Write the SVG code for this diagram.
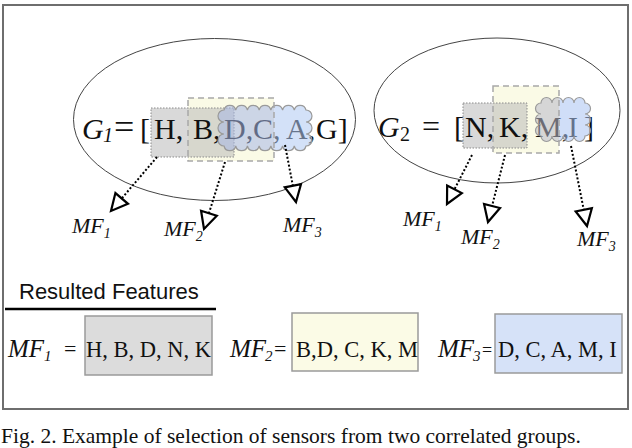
<svg xmlns="http://www.w3.org/2000/svg" xmlns:xlink="http://www.w3.org/1999/xlink" width="632" height="448" viewBox="0 0 632 448">
<style>
.serif{font-family:"Liberation Serif","Times New Roman",serif;fill:#111}
.it{font-style:italic}
.big{font-size:30px}
.lbl{font-size:22px}
.sub{font-size:14px}
.ell{fill:none;stroke:#444;stroke-width:1}
.ybox{fill:#fafae6}
.ydash{fill:none;stroke:#a8a8a8;stroke-width:1.5;stroke-dasharray:6 4}
.gbox{fill:#b4b4b4;fill-opacity:0.5;stroke:#8a8a8a;stroke-width:1;stroke-dasharray:1.5 1.5}
.cloudstroke{fill:none;stroke:#9a9a9a;stroke-width:1.2}
.conn{stroke:#000;stroke-width:2;stroke-dasharray:2 2;fill:none;marker-end:url(#tri)}
.res{stroke:#9a9a9a;stroke-width:1.5}
.mf{font-size:25px;font-style:italic}
.rowtxt{font-size:22.5px}
</style>
<defs>
<marker id="tri" markerUnits="userSpaceOnUse" markerWidth="22" markerHeight="22" viewBox="-2 -10 20 20" refX="15" refY="0" orient="auto">
<path d="M0,-7.5 L15,0 L0,7.5 Z" fill="#fff" stroke="#000" stroke-width="2" stroke-linejoin="miter"/>
</marker>
<path id="cloud1" d="M224,110 a6,6 0 0 1 11.714,0 a6,6 0 0 1 11.714,0 a6,6 0 0 1 11.714,0 a6,6 0 0 1 11.714,0 a6,6 0 0 1 11.714,0 a6,6 0 0 1 11.714,0 a6,6 0 0 1 11.714,0 a6,6 0 0 1 0,12 a6,6 0 0 1 0,12 a6,6 0 0 1 0,12 a6,6 0 0 1 -11.714,0 a6,6 0 0 1 -11.714,0 a6,6 0 0 1 -11.714,0 a6,6 0 0 1 -11.714,0 a6,6 0 0 1 -11.714,0 a6,6 0 0 1 -11.714,0 a6,6 0 0 1 -11.714,0 a6,6 0 0 1 0,-12 a6,6 0 0 1 0,-12 a6,6 0 0 1 0,-12 Z"/>
<path id="cloud2" d="M541,103 a5.5,5.5 0 0 1 11,0 a5.5,5.5 0 0 1 11,0 a5.5,5.5 0 0 1 11,0 a5.5,5.5 0 0 1 11,0 a5.5,5.5 0 0 1 0,11 a5.5,5.5 0 0 1 0,11 a5.5,5.5 0 0 1 0,11 a5.5,5.5 0 0 1 -11,0 a5.5,5.5 0 0 1 -11,0 a5.5,5.5 0 0 1 -11,0 a5.5,5.5 0 0 1 -11,0 a5.5,5.5 0 0 1 0,-11 a5.5,5.5 0 0 1 0,-11 a5.5,5.5 0 0 1 0,-11 Z"/>
<clipPath id="c1L"><rect x="200" y="90" width="74.5" height="80"/></clipPath>
<clipPath id="c1R"><rect x="274.5" y="90" width="60" height="80"/></clipPath>
<clipPath id="c2L"><rect x="520" y="80" width="39.5" height="80"/></clipPath>
<clipPath id="c2R"><rect x="559.5" y="80" width="50" height="80"/></clipPath>
</defs>
<rect x="0" y="0" width="632" height="448" fill="#fff"/>
<rect id="frame" x="3" y="5" width="625" height="404" fill="none" stroke="#6e6e6e" stroke-width="2"/>

<g id="group1">
<ellipse class="ell" cx="214.5" cy="119.5" rx="141" ry="81"/>
<rect class="ybox" x="188" y="98" width="86" height="63"/>
<rect class="gbox" x="151" y="108" width="83" height="49"/>
<text class="serif big" y="139"><tspan class="it" x="82">G</tspan><tspan class="it" x="103" y="142" font-size="20">1</tspan><tspan x="114" y="139" font-size="36">=</tspan><tspan x="140">[</tspan><tspan x="154">H,</tspan><tspan x="193">B,</tspan><tspan x="224">D,</tspan><tspan x="253">C,</tspan><tspan x="286">A,</tspan><tspan x="316">G]</tspan></text>
<use xlink:href="#cloud1" clip-path="url(#c1L)" fill="#a5b7e6" fill-opacity="0.55"/>
<use xlink:href="#cloud1" clip-path="url(#c1R)" fill="#afc8f2" fill-opacity="0.55"/>
<use xlink:href="#cloud1" class="cloudstroke"/>
<rect class="ydash" x="188" y="98" width="86" height="63"/>
</g>

<g id="group2">
<ellipse class="ell" cx="497" cy="110.5" rx="123" ry="72.5"/>
<rect class="ybox" x="493" y="86" width="66" height="67"/>
<rect class="gbox" x="463" y="103" width="64" height="45"/>
<text class="serif big" y="137"><tspan class="it" x="378">G</tspan><tspan x="400" y="141" font-size="20">2</tspan><tspan x="422" y="137" font-size="32">=</tspan><tspan x="454">[</tspan><tspan x="465">N,</tspan><tspan x="499">K,</tspan><tspan x="535">M,</tspan><tspan x="568">I</tspan><tspan x="584">]</tspan></text>
<use xlink:href="#cloud2" clip-path="url(#c2L)" fill="#b8b8c9" fill-opacity="0.55"/>
<use xlink:href="#cloud2" clip-path="url(#c2R)" fill="#a9c3f2" fill-opacity="0.55"/>
<use xlink:href="#cloud2" class="cloudstroke"/>
<rect class="ydash" x="493" y="86" width="66" height="67"/>
</g>

<g id="connectors">
<line class="conn" x1="157" y1="157" x2="111" y2="211"/>
<line class="conn" x1="225" y1="162" x2="204" y2="229"/>
<line class="conn" x1="285" y1="145" x2="296" y2="202"/>
<line class="conn" x1="472" y1="155" x2="447" y2="204"/>
<line class="conn" x1="505" y1="155" x2="488" y2="222"/>
<line class="conn" x1="571" y1="146" x2="587" y2="226"/>
</g>

<g id="mf1-g1"><text class="serif it lbl" x="72" y="233">MF<tspan class="sub" dy="5">1</tspan></text></g>
<g id="mf2-g1"><text class="serif it lbl" x="164" y="236">MF<tspan class="sub" dy="5">2</tspan></text></g>
<g id="mf3-g1"><text class="serif it lbl" x="283" y="232">MF<tspan class="sub" dy="5">3</tspan></text></g>
<g id="mf1-g2"><text class="serif it lbl" x="403" y="226">MF<tspan class="sub" dy="5">1</tspan></text></g>
<g id="mf2-g2"><text class="serif it lbl" x="461" y="244">MF<tspan class="sub" dy="5">2</tspan></text></g>
<g id="mf3-g2"><text class="serif it lbl" x="577" y="246">MF<tspan class="sub" dy="5">3</tspan></text></g>

<g id="heading">
<text x="19" y="299" font-family="Liberation Sans, Arial, sans-serif" font-size="22" fill="#111">Resulted Features</text>
<line x1="5" y1="309" x2="216" y2="309" stroke="#000" stroke-width="2.5"/>
</g>

<g id="result1">
<rect class="res" x="85" y="316" width="127" height="59" fill="#dcdcdc"/>
<text class="serif mf" x="8" y="357">MF</text>
<text class="serif it" x="44" y="361" font-size="15">1</text>
<text class="serif" x="64" y="356" font-size="22">=</text>
<text class="serif rowtxt" x="86" y="357">H, B, D, N, K</text>
</g>
<g id="result2">
<rect class="res" x="292" y="313" width="126" height="58" fill="#fbfbe6"/>
<text class="serif mf" x="230" y="357">MF</text>
<text class="serif it" x="265" y="361" font-size="15">2</text>
<text class="serif" x="274" y="356" font-size="22">=</text>
<text class="serif rowtxt" x="296" y="357">B,D, C, K, M</text>
</g>
<g id="result3">
<rect class="res" x="495" y="314" width="127" height="59" fill="#d6e2f8"/>
<text class="serif mf" x="438" y="357">MF</text>
<text class="serif it" x="473" y="361" font-size="15">3</text>
<text class="serif" x="482" y="356" font-size="18">=</text>
<text class="serif rowtxt" x="498" y="357">D, C, A, M, I</text>
</g>

<g id="caption">
<text class="serif" x="1" y="443" font-size="21.5" fill="#222">Fig. 2. Example of selection of sensors from two correlated groups.</text>
</g>
</svg>
